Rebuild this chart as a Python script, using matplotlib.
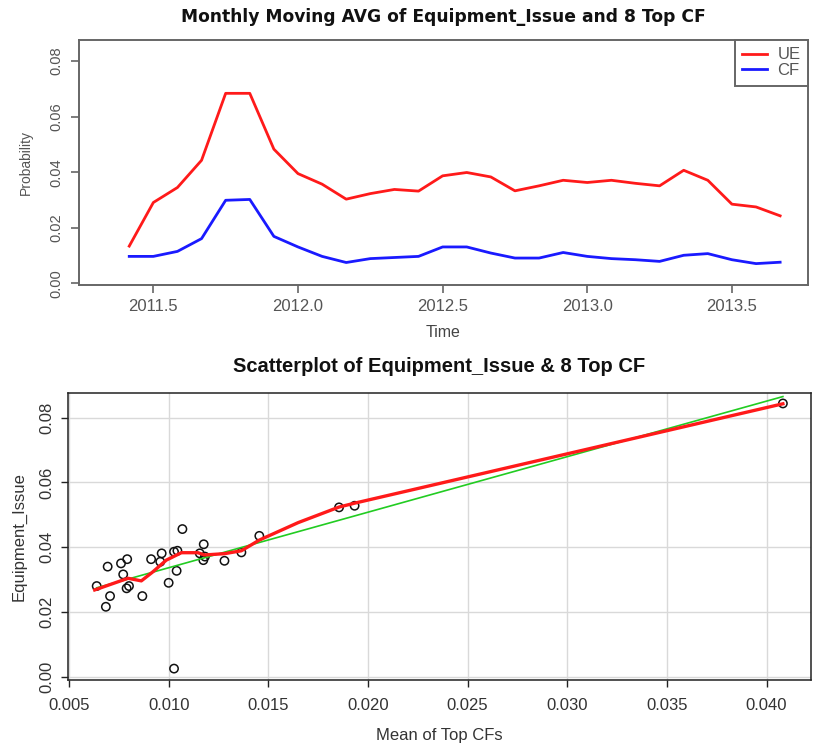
import numpy as np
import matplotlib
matplotlib.use("Agg")
import matplotlib.pyplot as plt

# Monthly moving averages (June 2011 - September 2013)
start_year = 2011
start_month = 6
ue_avg = [0.0134, 0.0291, 0.0345, 0.0443, 0.0684, 0.0684, 0.0483, 0.0395,
          0.0357, 0.0303, 0.0323, 0.0338, 0.0332, 0.0387, 0.0399, 0.0383,
          0.0333, 0.0351, 0.0371, 0.0363, 0.0371, 0.0360, 0.0351, 0.0407,
          0.0371, 0.0285, 0.0275, 0.0243]
cf_avg = [0.0097, 0.0097, 0.0115, 0.0161, 0.0299, 0.0302, 0.0169, 0.0131,
          0.0097, 0.0075, 0.0089, 0.0093, 0.0097, 0.0131, 0.0131, 0.0109,
          0.0091, 0.0091, 0.0111, 0.0097, 0.0089, 0.0085, 0.0079, 0.0101,
          0.0107, 0.0085, 0.0071, 0.0076]

# Scatter: mean of top CFs vs Equipment_Issue
mean_cf = [0.00639, 0.00694, 0.00706, 0.00685, 0.00761, 0.00792, 0.00772,
           0.00789, 0.00801, 0.00868, 0.00912, 0.00965, 0.00958, 0.01000,
           0.01027, 0.01044, 0.01040, 0.01069, 0.01027, 0.01156, 0.01176,
           0.01174, 0.01182, 0.01280, 0.01365, 0.01455, 0.01855, 0.01933,
           0.04082]
equip_issue = [0.0280, 0.0340, 0.0249, 0.0216, 0.0350, 0.0363, 0.0316,
               0.0273, 0.0280, 0.0249, 0.0363, 0.0381, 0.0355, 0.0290,
               0.0386, 0.0389, 0.0327, 0.0456, 0.0025, 0.0381, 0.0409,
               0.0360, 0.0371, 0.0358, 0.0384, 0.0435, 0.0523, 0.0528,
               0.0844]

# Local smoother through the scatter
smooth_x = [0.00629, 0.00796, 0.00863, 0.00921, 0.00988, 0.01064, 0.01147,
            0.01180, 0.01280, 0.01365, 0.01455, 0.01650, 0.01855, 0.01933,
            0.04082]
smooth_y = [0.0268, 0.0304, 0.0296, 0.0324, 0.0360, 0.0383, 0.0383,
            0.0376, 0.0380, 0.0389, 0.0422, 0.0476, 0.0524, 0.0536,
            0.0843]

W, H = 817, 751
fig = plt.figure(figsize=(W / 100, H / 100), dpi=100)
fig.patch.set_facecolor("white")

sans = ["Liberation Sans", "DejaVu Sans"]
gray = "#555555"

# ---------------- top panel: time series ----------------
ax1 = fig.add_axes([79 / W, 1 - 285 / H, (808 - 79) / W, (285 - 40) / H])
t = start_year + (start_month - 1) / 12 + np.arange(len(ue_avg)) / 12
ax1.plot(t, ue_avg, color="#ff1a1a", lw=2.0, label="UE", solid_joinstyle="round")
ax1.plot(t, cf_avg, color="#1a1aff", lw=2.0, label="CF", solid_joinstyle="round")
ax1.set_xlim(2011.243, 2013.763)
ax1.set_ylim(-0.0006, 0.0876)
ax1.set_xticks([2011.5, 2012.0, 2012.5, 2013.0, 2013.5])
ax1.set_xticklabels(["2011.5", "2012.0", "2012.5", "2013.0", "2013.5"])
ax1.set_yticks([0.0, 0.02, 0.04, 0.06, 0.08])
ax1.set_yticklabels(["0.00", "0.02", "0.04", "0.06", "0.08"], rotation=90, va="center")
for sp in ax1.spines.values():
    sp.set_color("#666666")
    sp.set_linewidth(1.4)
ax1.tick_params(axis="both", direction="out", length=6, width=1.2, color="#666666",
                labelcolor=gray, labelsize=12)
ax1.tick_params(axis="y", labelsize=10.5, pad=5)
ax1.tick_params(axis="x", pad=4)
for lab in ax1.get_xticklabels() + ax1.get_yticklabels():
    lab.set_family(sans)
ax1.set_xlabel("Time", fontsize=11.5, color="#444444", family=sans, labelpad=8)
ax1.set_ylabel("Probability", fontsize=10, color=gray, family=sans, labelpad=12)
ax1.set_title("Monthly Moving AVG of Equipment_Issue and 8 Top CF",
              fontsize=12.3, fontweight="bold", color="#111111", pad=13,
              family="DejaVu Sans")
leg = ax1.legend(loc="upper right", borderaxespad=0, fancybox=False,
                 edgecolor="#666666", framealpha=1, handlelength=1.5,
                 handletextpad=0.6, labelspacing=0.05, borderpad=0.45,
                 prop={"family": sans, "size": 12})
leg.get_frame().set_linewidth(1.4)
for txt in leg.get_texts():
    txt.set_color(gray)

# ---------------- bottom panel: scatter ----------------
ax2 = fig.add_axes([68 / W, 1 - 680 / H, (811 - 68) / W, (680 - 393) / H])
ax2.set_xlim(0.00495, 0.04223)
ax2.set_ylim(-0.00102, 0.08763)
xt = [0.005, 0.010, 0.015, 0.020, 0.025, 0.030, 0.035, 0.040]
yt = [0.00, 0.02, 0.04, 0.06, 0.08]
ax2.set_xticks(xt)
ax2.set_xticklabels([f"{v:.3f}" for v in xt])
ax2.set_yticks(yt)
ax2.set_yticklabels([f"{v:.2f}" for v in yt], rotation=90, va="center")
ax2.grid(True, color="#d9d9d9", lw=1.0)
ax2.set_axisbelow(True)

mx = np.array(mean_cf)
my = np.array(equip_issue)
ax2.scatter(mx, my, s=36, facecolors="none", edgecolors="#111111", linewidths=1.1, zorder=3)

slope, intercept = np.polyfit(mx, my, 1)
xr = np.array([mx.min(), mx.max()])
ax2.plot(xr, intercept + slope * xr, color="#22cc22", lw=1.2, zorder=4)
ax2.plot(smooth_x, smooth_y, color="#ff1a1a", lw=2.4, zorder=5, solid_joinstyle="round")

for sp in ax2.spines.values():
    sp.set_color("#222222")
    sp.set_linewidth(1.1)
ax2.tick_params(axis="both", direction="out", length=5, width=1.0, color="#222222",
                labelcolor="#333333", labelsize=12)
ax2.tick_params(axis="y", pad=5)
ax2.tick_params(axis="x", pad=8)
for lab in ax2.get_xticklabels() + ax2.get_yticklabels():
    lab.set_family(sans)
ax2.set_xlabel("Mean of Top CFs", fontsize=12, color="#333333", family=sans, labelpad=11)
ax2.set_ylabel("Equipment_Issue", fontsize=12, color="#333333", family=sans, labelpad=9)
ax2.set_title("Scatterplot of Equipment_Issue & 8 Top CF", fontsize=14.5,
              fontweight="bold", color="#111111", pad=15, family=sans)

fig.savefig("out.png", dpi=100)
